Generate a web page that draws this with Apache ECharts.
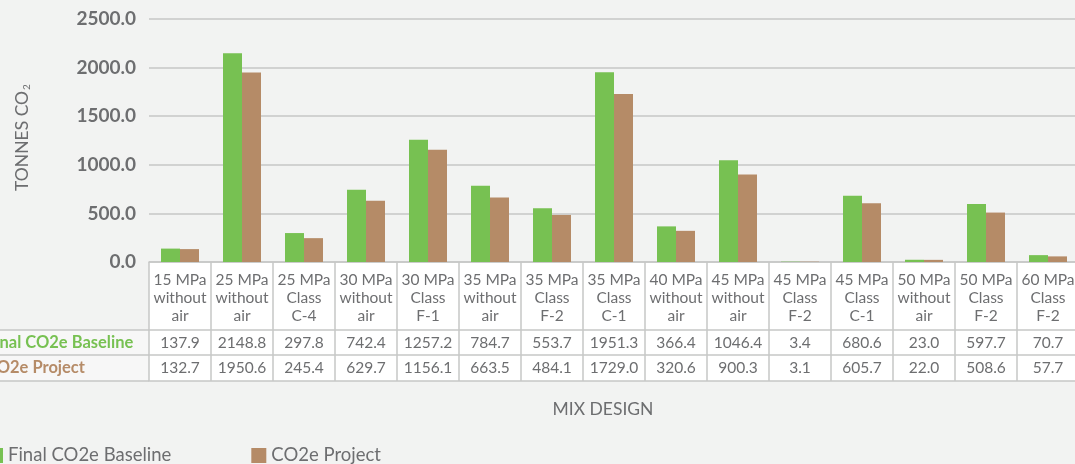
<!DOCTYPE html>
<html>
<head>
<meta charset="utf-8">
<script src="https://cdn.jsdelivr.net/npm/echarts@6/dist/echarts.min.js"></script>
<style>
  html, body { margin: 0; padding: 0; background: #f2f3f2; }
  #chart { width: 1075px; height: 464px; }
</style>
</head>
<body>
<div id="chart"></div>
<script>
const categories = [
  "15 MPa\nwithout\nair", "25 MPa\nwithout\nair", "25 MPa\nClass\nC-4", "30 MPa\nwithout\nair",
  "30 MPa\nClass\nF-1", "35 MPa\nwithout\nair", "35 MPa\nClass\nF-2", "35 MPa\nClass\nC-1",
  "40 MPa\nwithout\nair", "45 MPa\nwithout\nair", "45 MPa\nClass\nF-2", "45 MPa\nClass\nC-1",
  "50 MPa\nwithout\nair", "50 MPa\nClass\nF-2", "60 MPa\nClass\nF-2"
];
const baseline = [137.9, 2148.8, 297.8, 742.4, 1257.2, 784.7, 553.7, 1951.3, 366.4, 1046.4, 3.4, 680.6, 23.0, 597.7, 70.7];
const project = [132.7, 1950.6, 245.4, 629.7, 1156.1, 663.5, 484.1, 1729.0, 320.6, 900.3, 3.1, 605.7, 22.0, 508.6, 57.7];
const seriesNames = ["Final CO2e Baseline", "CO2e Project"];

const GREEN = "#77c152";
const BROWN = "#b58b67";
const TEXT = "#6d6e70";
const LINE = "#c6c7c6";
const FONT = "Lato";

const chart = echarts.init(document.getElementById("chart"));

// one row of the data table under the plot, drawn as an extra category axis
function rowAxis(offset, values, name, color) {
  return {
    type: "category",
    data: categories,
    position: "bottom",
    offset: offset,
    axisLine: { show: true, lineStyle: { color: LINE, width: 1.5 } },
    axisTick: { show: false },
    axisLabel: {
      interval: 0,
      margin: 5,
      fontFamily: FONT,
      fontSize: 15.5,
      color: TEXT,
      formatter: (v, i) => values ? values[i].toFixed(1) : "",
    },
    name: name,
    nameLocation: "start",
    nameGap: 163,
    nameTextStyle: {
      color: color,
      fontFamily: FONT,
      fontWeight: "bold",
      fontSize: 16.5,
      align: "left",
      verticalAlign: "top",
      padding: [4, 0, 0, 0],
    },
  };
}

chart.setOption({
  backgroundColor: "#f2f3f2",
  animation: false,
  textStyle: { fontFamily: FONT },
  grid: { left: 149, top: 19, width: 930, height: 243, containLabel: false, outerBoundsMode: "none" },
  legend: {
    data: seriesNames,
    left: -12,
    top: 446,
    padding: 0,
    itemWidth: 15,
    itemHeight: 15,
    itemGap: 80,
    icon: "rect",
    textStyle: { fontFamily: FONT, fontSize: 18.5, color: TEXT },
  },
  graphic: [
    { type: "rect", z: -10, shape: { x: 149, y: 262, width: 930, height: 119 }, style: { fill: "#ffffff" } },
    { type: "rect", z: -10, shape: { x: 0, y: 330, width: 149, height: 51 }, style: { fill: "#f7f7f7" } },
    { type: "line", shape: { x1: 0, y1: 330, x2: 149, y2: 330 }, style: { stroke: LINE, lineWidth: 1.5 } },
    { type: "line", shape: { x1: 0, y1: 355, x2: 149, y2: 355 }, style: { stroke: LINE, lineWidth: 1.5 } },
    { type: "line", shape: { x1: 0, y1: 381, x2: 149, y2: 381 }, style: { stroke: LINE, lineWidth: 1.5 } },
    {
      type: "text",
      x: 603,
      y: 409,
      style: {
        text: "MIX DESIGN",
        align: "center",
        verticalAlign: "middle",
        fontFamily: FONT,
        fontSize: 17.5,
        fill: TEXT,
      },
    },
  ],
  xAxis: [
    {
      type: "category",
      data: categories,
      position: "bottom",
      axisLine: { show: true, lineStyle: { color: LINE, width: 1.5 } },
      axisTick: { show: true, interval: 0, length: 119, lineStyle: { color: LINE, width: 1.5 } },
      axisLabel: {
        interval: 0,
        margin: 9,
        fontFamily: FONT,
        fontSize: 15.5,
        lineHeight: 18,
        color: TEXT,
      },
    },
    rowAxis(68, baseline, seriesNames[0], GREEN),
    rowAxis(93, project, seriesNames[1], BROWN),
    Object.assign(rowAxis(119, null, "", TEXT), { axisLabel: { show: false } }),
  ],
  yAxis: {
    type: "value",
    min: 0,
    max: 2500,
    interval: 500,
    axisLine: { show: false },
    axisTick: { show: false },
    axisLabel: {
      margin: 13,
      fontFamily: FONT,
      fontSize: 19,
      fontWeight: "bold",
      color: TEXT,
      formatter: (v) => v.toFixed(1),
    },
    splitLine: { lineStyle: { color: LINE, width: 1.5 } },
    name: "TONNES CO{s|2}",
    nameLocation: "middle",
    nameGap: 117,
    nameTextStyle: {
      fontFamily: FONT,
      fontSize: 17.5,
      color: TEXT,
      padding: [0, 0, 0, 6],
      rich: { s: { fontFamily: FONT, fontSize: 10, color: TEXT, padding: [9, 0, 0, 1] } },
    },
  },
  series: [
    {
      name: seriesNames[0],
      type: "bar",
      data: baseline,
      barWidth: 19,
      barGap: "0%",
      itemStyle: { color: GREEN },
    },
    {
      name: seriesNames[1],
      type: "bar",
      data: project,
      barWidth: 19,
      barGap: "0%",
      itemStyle: { color: BROWN },
    },
  ],
});
</script>
</body>
</html>
